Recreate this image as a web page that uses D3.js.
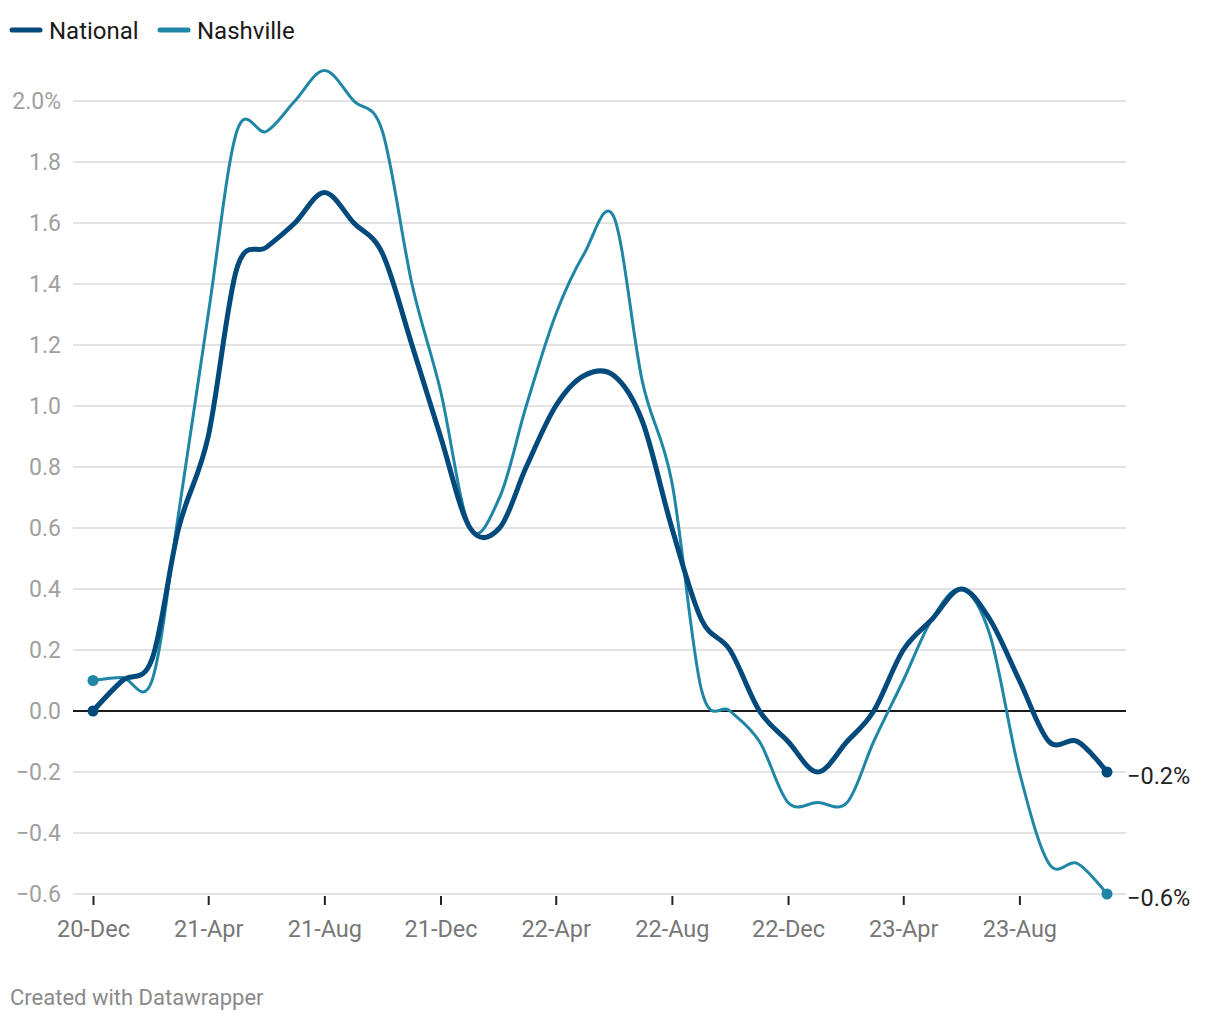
<!DOCTYPE html>
<html>
<head>
<meta charset="utf-8">
<script src="https://cdn.jsdelivr.net/npm/d3@7"></script>
<style>
  html, body { margin: 0; padding: 0; background: #fff; }
  svg { display: block; font-family: Roboto, "Noto Sans", sans-serif; }
</style>
</head>
<body>
<svg id="chart" width="1220" height="1020"></svg>
<script>
// ---- data ----
const months = [
  "2020-12","2021-01","2021-02","2021-03","2021-04","2021-05","2021-06","2021-07","2021-08","2021-09","2021-10","2021-11",
  "2021-12","2022-01","2022-02","2022-03","2022-04","2022-05","2022-06","2022-07","2022-08","2022-09","2022-10","2022-11",
  "2022-12","2023-01","2023-02","2023-03","2023-04","2023-05","2023-06","2023-07","2023-08","2023-09","2023-10","2023-11"
];
const national = [
  0.0, 0.1, 0.17, 0.6, 0.9, 1.45, 1.52, 1.6, 1.7, 1.6, 1.5, 1.2,
  0.9, 0.6, 0.6, 0.8, 1.0, 1.1, 1.1, 0.95, 0.6, 0.3, 0.2, 0.0,
  -0.1, -0.2, -0.1, 0.0, 0.2, 0.3, 0.4, 0.3, 0.1, -0.1, -0.1, -0.2
];
const nashville = [
  0.1, 0.11, 0.1, 0.65, 1.3, 1.9, 1.9, 2.0, 2.1, 2.0, 1.9, 1.4,
  1.05, 0.6, 0.7, 1.0, 1.3, 1.5, 1.62, 1.08, 0.75, 0.07, 0.0, -0.1,
  -0.3, -0.3, -0.3, -0.1, 0.1, 0.3, 0.4, 0.25, -0.2, -0.5, -0.5, -0.6
];
const seriesNames = ["National", "Nashville"];
const seriesColors = ["#02497c", "#1f86a5"];
const yTicks = [-0.6, -0.4, -0.2, 0.0, 0.2, 0.4, 0.6, 0.8, 1.0, 1.2, 1.4, 1.6, 1.8, 2.0];
const xTickMonths = ["2020-12","2021-04","2021-08","2021-12","2022-04","2022-08","2022-12","2023-04","2023-08"];
const xTickLabels = ["20-Dec","21-Apr","21-Aug","21-Dec","22-Apr","22-Aug","22-Dec","23-Apr","23-Aug"];
const footerText = "Created with Datawrapper";

// ---- layout ----
const svg = d3.select("#chart");
const parse = d3.timeParse("%Y-%m");
const dates = months.map(parse);

const x = d3.scaleTime()
  .domain([dates[0], dates[dates.length - 1]])
  .range([93, 1107]);
const y = d3.scaleLinear().domain([-0.6, 2.0]).range([894, 101]);

const gridX0 = 73, gridX1 = 1126;
const minus = s => s.replace("-", "\u2212");

// gridlines
svg.append("g").selectAll("line").data(yTicks.filter(v => v !== 0)).join("line")
  .attr("x1", gridX0).attr("x2", gridX1)
  .attr("y1", d => y(d)).attr("y2", d => y(d))
  .attr("stroke", "#e3e3e3").attr("stroke-width", 2);

// y labels
svg.append("g").selectAll("text").data(yTicks).join("text")
  .attr("x", 61).attr("y", d => y(d))
  .attr("dy", "0.36em")
  .attr("text-anchor", "end")
  .attr("font-size", 23)
  .attr("fill", "#a0a0a0")
  .text(d => minus(d3.format(".1f")(d)) + (d === 2.0 ? "%" : ""));

// x-axis ticks
const tickDates = xTickMonths.map(parse);
const xAxis = d3.axisBottom(x)
  .tickValues(tickDates)
  .tickSize(9)
  .tickPadding(15)
  .tickFormat((d, i) => xTickLabels[i]);
const gx = svg.append("g").attr("transform", `translate(0, ${y(-0.6) + 2})`).call(xAxis);
gx.select(".domain").remove();
gx.selectAll(".tick line").attr("stroke", "#222").attr("stroke-width", 2);
gx.selectAll(".tick text")
  .attr("font-size", 23.5)
  .attr("font-family", "Roboto, sans-serif")
  .attr("fill", "#777");

// zero line
svg.append("line")
  .attr("x1", gridX0).attr("x2", gridX1)
  .attr("y1", y(0)).attr("y2", y(0))
  .attr("stroke", "#1a1a1a").attr("stroke-width", 2);

// lines
const curve = d3.curveCardinal.tension(0);
const lineGen = d3.line().x((d, i) => x(dates[i])).y(d => y(d)).curve(curve);
const allSeries = [national, nashville];
const widths = [5, 3];

[1, 0].forEach(k => {
  svg.append("path")
    .datum(allSeries[k])
    .attr("d", lineGen)
    .attr("fill", "none")
    .attr("stroke", seriesColors[k])
    .attr("stroke-width", widths[k])
    .attr("stroke-linejoin", "round")
    .attr("stroke-linecap", "round");
});

// endpoint dots
[1, 0].forEach(k => {
  const s = allSeries[k];
  svg.append("circle").attr("cx", x(dates[0])).attr("cy", y(s[0])).attr("r", 5.5).attr("fill", seriesColors[k]);
  svg.append("circle").attr("cx", x(dates[dates.length - 1])).attr("cy", y(s[s.length - 1])).attr("r", 5.5).attr("fill", seriesColors[k]);
});

// end labels
allSeries.forEach((s, k) => {
  const v = s[s.length - 1];
  svg.append("text")
    .attr("x", 1127).attr("y", y(v) + 4)
    .attr("dy", "0.36em")
    .attr("font-size", 23.5)
    .attr("fill", "#222")
    .text(minus(d3.format(".1f")(v)) + "%");
});

// legend
const legendX = [12, 160];
seriesNames.forEach((name, k) => {
  const g = svg.append("g");
  g.append("line")
    .attr("x1", legendX[k]).attr("x2", legendX[k] + 28)
    .attr("y1", 30).attr("y2", 30)
    .attr("stroke", seriesColors[k]).attr("stroke-width", 5)
    .attr("stroke-linecap", "round");
  g.append("text")
    .attr("x", legendX[k] + 37).attr("y", 30)
    .attr("dy", "0.36em")
    .attr("font-size", 24)
    .attr("fill", "#1a1a1a")
    .text(name);
});

// footer
svg.append("text")
  .attr("x", 10).attr("y", 997)
  .attr("dy", "0.36em")
  .attr("font-size", 22)
  .attr("fill", "#8a8a8a")
  .text(footerText);
</script>
</body>
</html>
